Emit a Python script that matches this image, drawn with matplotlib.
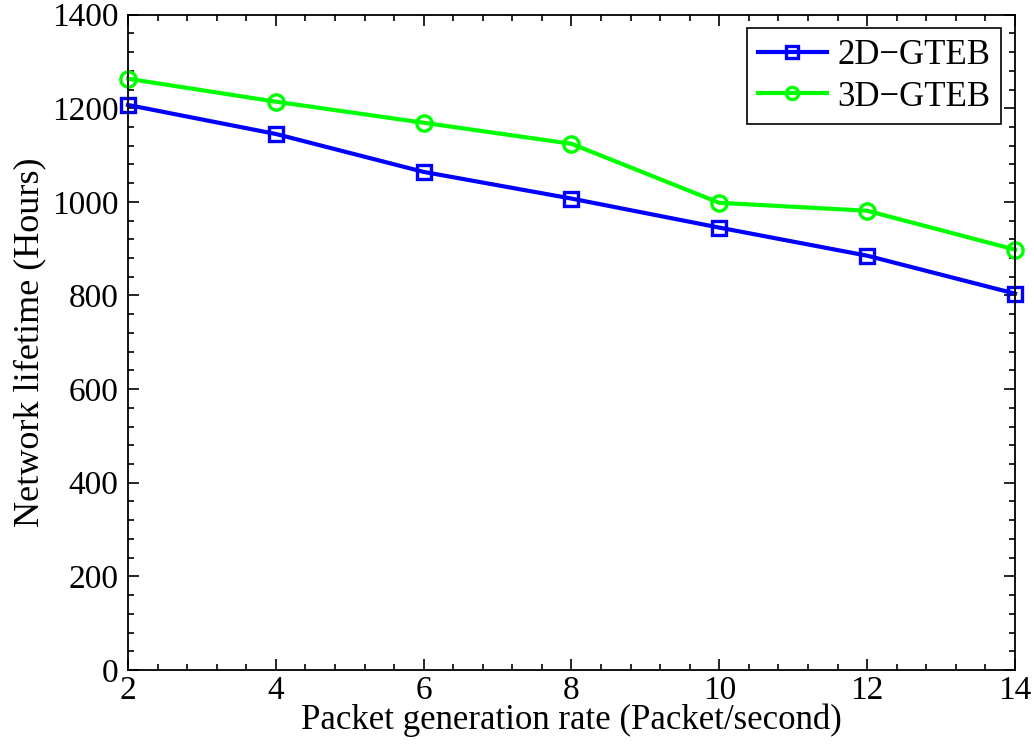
import matplotlib
matplotlib.use("Agg")
import matplotlib.pyplot as plt
from matplotlib.ticker import MultipleLocator

# data
rate = [2, 4, 6, 8, 10, 12, 14]
gteb_2d = [1207, 1145, 1064, 1007, 945, 885, 804]
gteb_3d = [1263, 1214, 1169, 1124, 998, 981, 898]

plt.rcParams['font.family'] = ['Liberation Serif', 'DejaVu Serif']

fig = plt.figure(figsize=(10.34, 7.49), dpi=100)
ax = fig.add_axes([0.1238, 0.1055, 0.8578, 0.875])

ax.plot(rate, gteb_2d, color='#0000ff', lw=3, marker='s', ms=10,
        mfc='none', mew=2.4, label='2D\u2212GTEB', clip_on=False)
ax.plot(rate, gteb_3d, color='#00ff00', lw=3, marker='o', ms=11,
        mfc='none', mew=2.4, label='3D\u2212GTEB', clip_on=False)

ax.set_xlim(2, 14)
ax.set_ylim(0, 1400)
ax.set_xticks([2, 4, 6, 8, 10, 12, 14])
ax.set_yticks(range(0, 1401, 200))
ax.xaxis.set_minor_locator(MultipleLocator(0.4))
ax.yaxis.set_minor_locator(MultipleLocator(40))
ax.tick_params(which='both', direction='in', top=True, right=True, width=1.2)
ax.tick_params(which='major', length=8, labelsize=24)
ax.tick_params(which='minor', length=4)
ax.tick_params(axis='x', pad=4)
ax.tick_params(axis='y', pad=7)
for s in ax.spines.values():
    s.set_linewidth(1.3)

ax.set_xlabel('Packet generation rate (Packet/second)', fontsize=25, labelpad=-2)
ax.set_ylabel('Network lifetime (Hours)', fontsize=26, labelpad=4)

leg = ax.legend(loc='upper right', fancybox=False, edgecolor='black',
                framealpha=1, fontsize=25, handlelength=2.0,
                borderaxespad=0.4, labelspacing=0.25, handletextpad=0.3,
                borderpad=0.3, markerscale=0.8)
leg.get_frame().set_linewidth(1.2)

fig.savefig('out.png', dpi=100)
